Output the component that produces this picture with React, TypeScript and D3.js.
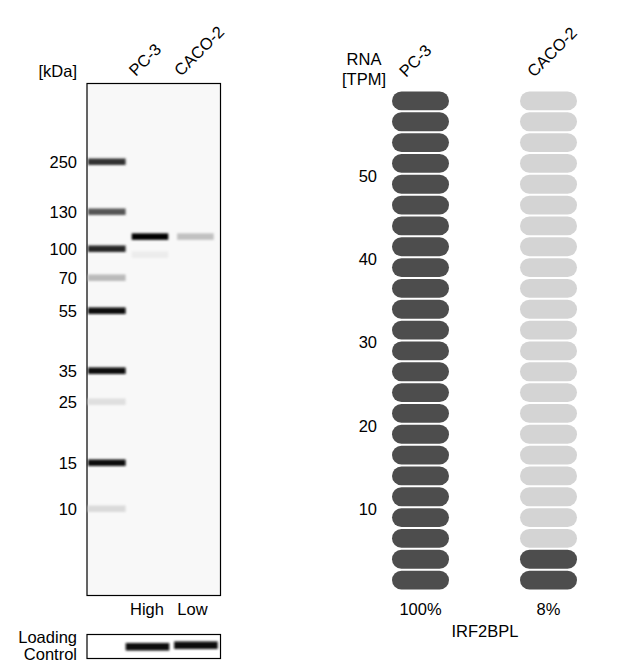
import * as d3 from "d3";

// western blot
const kdaMarkers = [250, 130, 100, 70, 55, 35, 25, 15, 10];
const markerY = [162, 212, 249, 278, 311, 371, 402, 463, 509]; // measured migration of ladder
const markerDark = [0.8, 0.65, 0.85, 0.25, 0.97, 0.97, 0.1, 0.97, 0.12];
const lanes = ["ladder", "PC-3", "CACO-2"];
const laneLevels = ["High", "Low"];
const sampleBands = [
  { lane: "PC-3", kda: 109, dark: 1.0 },
  { lane: "PC-3", kda: 93, dark: 0.05 },
  { lane: "CACO-2", kda: 109, dark: 0.22 },
];
const loadingDark = [0.95, 0.95];

// RNA expression
const cellLines = ["PC-3", "CACO-2"];
const tpm = [58.5, 4.7];
const tpmTicks = [10, 20, 30, 40, 50];
const gene = "IRF2BPL";

const W = 640;
const H = 663;
const font = "'Liberation Sans', Arial, sans-serif";
const fs = 16.5;

function Blot() {
  const y = d3.scaleLog().domain(kdaMarkers).range(markerY);
  const x = d3.scaleBand().domain(lanes).range([84, 218]).paddingInner(0.15).paddingOuter(0.05);
  const grey = (d: number) => d3.interpolateRgb("#f8f8f8", "#000")(d);
  const bw = x.bandwidth();
  return (
    <g>
      <defs>
        <filter id="blur" x="-20%" y="-200%" width="140%" height="500%">
          <feGaussianBlur stdDeviation="1.3 1.3" />
        </filter>
      </defs>
      <text x={77} y={77} textAnchor="end" fontSize={fs}>[kDa]</text>
      {lanes.slice(1).map((l) => (
        <text key={l} x={x(l)! + 4} y={77} fontSize={fs} transform={`rotate(-45 ${x(l)! + 4} 77)`}>
          {l}
        </text>
      ))}
      <rect x={87} y={83.5} width={133.5} height={512} fill="#f8f8f8" stroke="#000" strokeWidth={1.2} />
      <g filter="url(#blur)">
        {kdaMarkers.map((k, i) => (
          <rect key={k} x={88} y={y(k) - 3.5} width={bw - 1} height={6.5} fill={grey(markerDark[i])} />
        ))}
        {sampleBands.map((b, i) => (
          <rect key={i} x={x(b.lane)!} y={y(b.kda) - 3.5} width={bw - 2} height={6.5} fill={grey(b.dark)} />
        ))}
      </g>
      {kdaMarkers.map((k) => (
        <text key={k} x={77} y={y(k)} dy="0.35em" textAnchor="end" fontSize={fs}>{k}</text>
      ))}
      {laneLevels.map((t, i) => (
        <text key={t} x={x(lanes[i + 1])! + bw / 2 - 4} y={615} textAnchor="middle" fontSize={fs}>{t}</text>
      ))}
      <text x={77} y={643} textAnchor="end" fontSize={fs}>Loading</text>
      <text x={77} y={660} textAnchor="end" fontSize={fs}>Control</text>
      <rect x={87} y={634.5} width={133.5} height={24} fill="#fff" stroke="#000" strokeWidth={1.2} />
      <g filter="url(#blur)">
        {loadingDark.map((d, i) => (
          <rect key={i} x={x(lanes[i + 1])! - 6 + i * 3} y={643 - i * 1.5} width={bw + 5} height={7.5} fill={grey(d)} />
        ))}
      </g>
    </g>
  );
}

function Rna() {
  const step = 2.5;
  const max = 60;
  const bw = 57;
  const y = d3.scaleLinear().domain([0, max]).range([590.5, 90.5]);
  const x = d3.scalePoint().domain(cellLines).range([420.5, 548.5]);
  const pills = d3.range(0, max, step);
  const top = d3.max(tpm)!;
  return (
    <g>
      <text x={364} y={65} textAnchor="middle" fontSize={fs}>RNA</text>
      <text x={364} y={85} textAnchor="middle" fontSize={fs}>[TPM]</text>
      {cellLines.map((c) => {
        const lx = x(c)! - bw / 2 + 14;
        return (
          <text key={c} x={lx} y={78} fontSize={fs} transform={`rotate(-45 ${lx} 78)`}>{c}</text>
        );
      })}
      {tpmTicks.map((t) => (
        <text key={t} x={377} y={y(t) + 2} dy="0.35em" textAnchor="end" fontSize={fs}>{t}</text>
      ))}
      {cellLines.map((c, ci) =>
        pills.map((p) => {
          const y0 = y(p + step) + 1;
          const h = y(p) - y(p + step) - 2;
          return (
            <rect
              key={c + p}
              x={x(c)! - bw / 2}
              y={y0}
              width={bw}
              height={h}
              rx={h / 2}
              fill={p < tpm[ci] ? "#4d4d4d" : "#d4d4d4"}
            />
          );
        })
      )}
      {cellLines.map((c, ci) => (
        <text key={c} x={x(c)!} y={615} textAnchor="middle" fontSize={fs}>
          {Math.round((tpm[ci] / top) * 100)}%
        </text>
      ))}
      <text x={485} y={637} textAnchor="middle" fontSize={fs}>{gene}</text>
    </g>
  );
}

export default function App() {
  return (
    <svg
      width={W}
      height={H}
      style={{ position: "absolute", left: 0, top: 0, background: "#fff" }}
      fontFamily={font}
      fill="#000"
    >
      <rect width={W} height={H} fill="#fff" />
      <Blot />
      <Rna />
    </svg>
  );
}
